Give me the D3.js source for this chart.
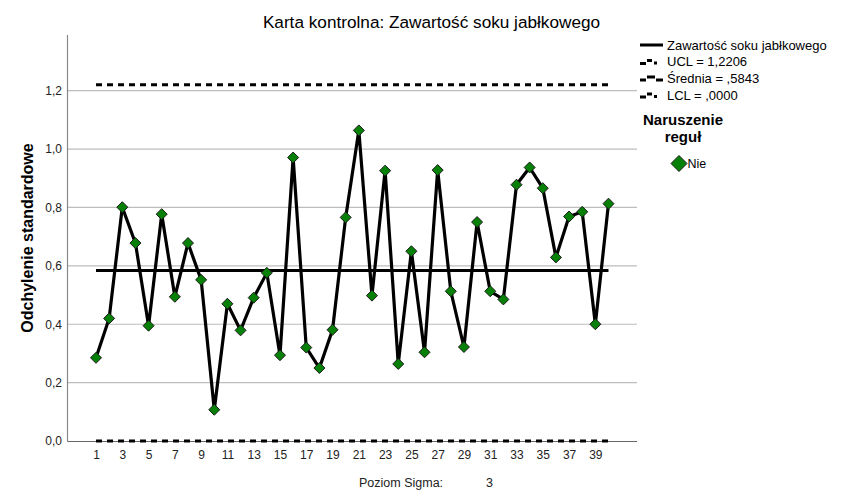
<!DOCTYPE html>
<html><head><meta charset="utf-8">
<script src="https://cdn.jsdelivr.net/npm/d3@7"></script>
<style>
body{margin:0;background:#fff;}
svg{font-family:"Liberation Sans",Arial,sans-serif;}
</style></head>
<body><div id="chart"></div>
<script>
const samples = d3.range(1, 41);
const values = [0.285,0.420,0.801,0.678,0.395,0.777,0.494,0.678,0.552,0.107,
0.470,0.379,0.491,0.576,0.294,0.971,0.320,0.250,0.381,0.766,
1.064,0.498,0.926,0.264,0.650,0.304,0.928,0.513,0.322,0.750,
0.513,0.485,0.878,0.937,0.866,0.629,0.769,0.785,0.400,0.813];
const UCL = 1.2206, MEAN = 0.5843, LCL = 0.0;
const yTicks = [0,0.2,0.4,0.6,0.8,1.0,1.2];
const xTicks = d3.range(1, 41, 2);
const legendLabels = ["Zawartość soku jabłkowego","UCL = 1,2206","Średnia = ,5843","LCL = ,0000"];
const ruleLabel = ["Naruszenie","reguł"];
const ruleCats = ["Nie"];

const W=850,H=500;
const svg=d3.select("#chart").append("svg").attr("width",W).attr("height",H);
const x=d3.scaleLinear().domain([-1.17,42.17]).range([67.5,637]);
const y=d3.scaleLinear().domain([0,1.2]).range([441,90.7]);
const fmt=d=>d3.format(".1f")(d).replace(".",",");
const FF="Liberation Sans, Arial, sans-serif";

// gridlines
svg.append("g").selectAll("line").data(yTicks.filter(d=>d>0)).join("line")
 .attr("x1",67.5).attr("x2",637).attr("y1",d=>y(d)).attr("y2",d=>y(d))
 .attr("stroke","#bdbdbd").attr("stroke-width",1.2);

// axes
const ya=svg.append("g").attr("transform","translate(67.5,0)")
 .call(d3.axisLeft(y).tickValues(yTicks).tickFormat(fmt).tickSize(0).tickPadding(5.5));
ya.select(".domain").remove();
ya.selectAll("text").attr("font-size",12).attr("fill","#222").attr("font-family",FF);
svg.append("line").attr("x1",67.5).attr("x2",67.5).attr("y1",35).attr("y2",441.5).attr("stroke","#888").attr("stroke-width",1.2);

const xa=svg.append("g").attr("transform","translate(0,441.5)")
 .call(d3.axisBottom(x).tickValues(xTicks).tickFormat(d=>d).tickSize(0).tickPadding(9));
xa.select(".domain").remove();
xa.selectAll("text").attr("font-size",12).attr("fill","#222").attr("font-family",FF);
svg.append("line").attr("x1",67.5).attr("x2",637).attr("y1",441.5).attr("y2",441.5).attr("stroke","#666").attr("stroke-width",1);

// control lines
const x0=x(1),x1=x(40);
svg.append("line").attr("x1",x0).attr("x2",x1).attr("y1",y(UCL)).attr("y2",y(UCL))
 .attr("stroke","#000").attr("stroke-width",3).attr("stroke-dasharray","6,5");
svg.append("line").attr("x1",x0).attr("x2",x1).attr("y1",y(LCL)).attr("y2",y(LCL))
 .attr("stroke","#000").attr("stroke-width",3).attr("stroke-dasharray","6,5");
svg.append("line").attr("x1",x0).attr("x2",x1).attr("y1",y(MEAN)).attr("y2",y(MEAN))
 .attr("stroke","#000").attr("stroke-width",3);

// data line
svg.append("path").datum(values)
 .attr("d",d3.line().x((d,i)=>x(samples[i])).y(d=>y(d)))
 .attr("fill","none").attr("stroke","#000").attr("stroke-width",3.2).attr("stroke-linejoin","miter");

// markers
const diamond=(cx,cy,r)=>`M${cx},${cy-r}L${cx+r},${cy}L${cx},${cy+r}L${cx-r},${cy}Z`;
svg.append("g").selectAll("path").data(values).join("path")
 .attr("d",(d,i)=>diamond(x(samples[i]),y(d),5.5))
 .attr("fill","#078007").attr("stroke","#1a1a1a").attr("stroke-width",1);

// title
svg.append("text").attr("x",431.5).attr("y",28).attr("text-anchor","middle")
 .attr("font-size",17.2).attr("fill","#000").text("Karta kontrolna: Zawartość soku jabłkowego");

// y label
svg.append("text").attr("transform","translate(33,238) rotate(-90)").attr("text-anchor","middle")
 .attr("font-size",16).attr("font-weight","bold").attr("fill","#000").text("Odchylenie standardowe");

// footer
svg.append("text").attr("x",359).attr("y",487).attr("font-size",12.5).attr("fill","#222").text("Poziom Sigma:");
svg.append("text").attr("x",486).attr("y",487).attr("font-size",12.5).attr("fill","#222").text("3");

// legend
const lg=svg.append("g");
const rowsY=[45,61.5,78,95];
legendLabels.forEach((t,i)=>{
  const yy=rowsY[i];
  lg.append("text").attr("x",667).attr("y",yy+4.8).attr("font-size",13).attr("fill","#000").text(t);
});
lg.append("rect").attr("x",640).attr("y",rowsY[0]-1.5).attr("width",23).attr("height",3).attr("fill","#000");
[1,2,3].forEach(i=>{
  const yy=rowsY[i];
  lg.append("rect").attr("x",640).attr("y",yy+0.5).attr("width",6).attr("height",3).attr("fill","#000");
  if(i===2){
    lg.append("rect").attr("x",647).attr("y",yy-2.5).attr("width",8).attr("height",3).attr("fill","#000");
    lg.append("rect").attr("x",656).attr("y",yy+0.5).attr("width",7).attr("height",3).attr("fill","#000");
  } else {
    lg.append("rect").attr("x",647).attr("y",yy-2.5).attr("width",5).attr("height",3).attr("fill","#000");
    lg.append("rect").attr("x",654).attr("y",yy).attr("width",3).attr("height",3).attr("fill","#000");
  }
});
ruleLabel.forEach((t,i)=>{
  lg.append("text").attr("x",683).attr("y",125+i*16.5).attr("text-anchor","middle")
   .attr("font-size",15).attr("font-weight","bold").attr("fill","#000").text(t);
});
ruleCats.forEach((t,i)=>{
  lg.append("path").attr("d",diamond(679,163.5+i*18,8)).attr("fill","#078007").attr("stroke","#1a1a1a").attr("stroke-width",1);
  lg.append("text").attr("x",687.5).attr("y",168+i*18).attr("font-size",12.5).attr("fill","#000").text(t);
});
</script></body></html>
